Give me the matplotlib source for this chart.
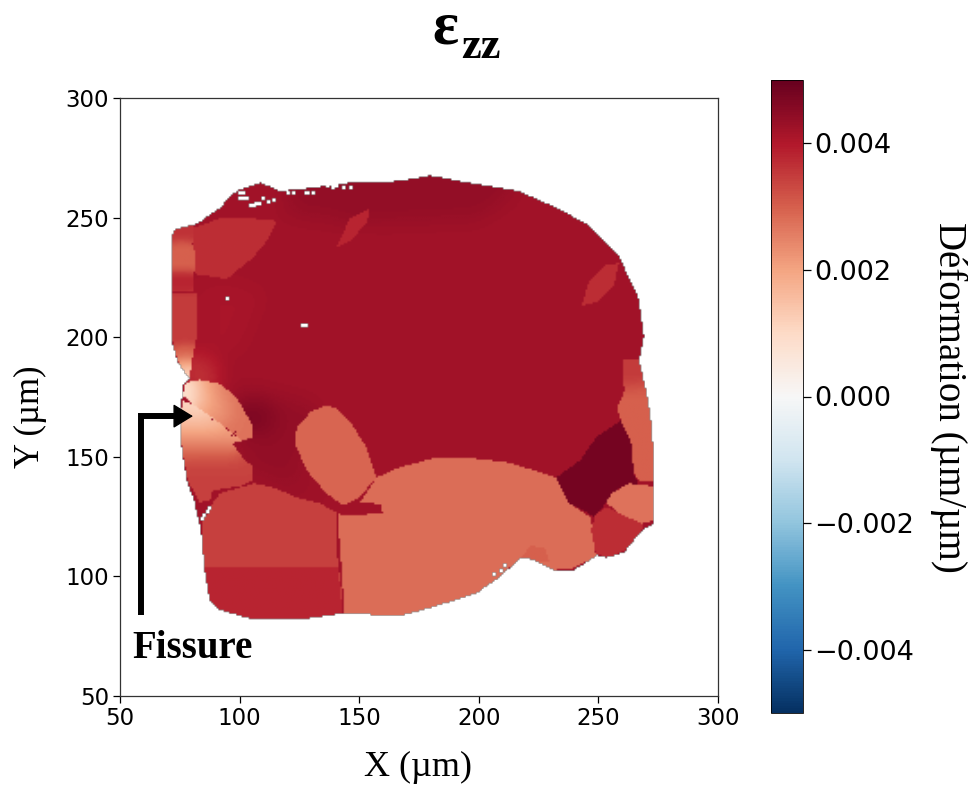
#!/usr/bin/env python3
"""Strain map (eps_zz) of a polycrystal, grains read off the reference picture."""
import numpy as np
import matplotlib
matplotlib.use('Agg')
import matplotlib.pyplot as plt
from matplotlib.path import Path

SERIF = 'Liberation Serif'

# sample outline, um
OUTLINE = [(71.7, 243), (73, 245.6), (79.3, 247), (82.6, 248), (92.6, 255), (95, 258.6), (100, 262),
           (109, 265), (117, 261.5), (131.5, 263), (146, 265), (167, 265.7), (180, 268), (196, 265),
           (217, 261.5), (234, 254), (246.5, 247), (259, 234), (267, 217.6), (269.5, 201), (267.5, 190.4),
           (270.7, 176.7), (273, 161), (273.6, 138), (273.4, 122), (269.5, 120), (265, 115), (261, 110),
           (253.6, 108), (250, 109), (247, 107), (240, 102.7), (232, 102.7), (223.5, 107), (218, 108),
           (208.8, 99.7), (199.2, 93), (180.8, 87.2), (167, 83.5), (144, 84.7), (125, 82), (115, 82),
           (104, 82.6), (92, 86), (87.6, 90), (85.5, 102.7), (84, 119), (81, 132), (78, 140), (75.5, 157),
           (76, 180), (79, 183), (74, 190), (71.7, 199), (71.7, 232)]

# (strain, polygon) painted in this order, later ones on top
MAIN_VALUE = 0.0042
MAIN_SHADES = [
    (0.0044, [(120, 263), (180, 268), (217, 261.5), (200, 250), (150, 248), (120, 252)]),
    (0.0041, [(84, 190), (100, 195), (110, 220), (95, 222), (84, 222)]),
    (0.0044, [(100.2, 180), (125, 173.7), (133.6, 171.6), (123.2, 157), (125.2, 140), (137.7, 131.9),
              (106.4, 144.5), (100.2, 158.3)]),
    (0.0047, [(102, 175), (115, 170), (112, 160), (103, 160)]),
    (0.0034, [(80, 192), (88, 190), (92, 183), (82, 183)]),
]
SMALL_GRAINS = [
    (0.0037, [(80.5, 246), (81.4, 226.8), (94.7, 224.7), (105.6, 233.5), (111.4, 240.6), (115.6, 249),
              (105.6, 250), (91.8, 250)]),
    (0.0037, [(243.5, 213.4), (246.5, 223.9), (252.7, 230.2), (259, 231.4), (256.9, 221.8), (250.6, 215.5)]),
    (0.0038, [(140.7, 237.7), (146.1, 249.8), (154.5, 254), (153.7, 249), (147.4, 241.4)]),
]
LEFT_STRIP = [
    (0.0036, [(71, 240), (81, 240), (81, 248), (71, 248)]),
    (0.0030, [(71, 228), (81.5, 228), (81.5, 236), (80, 240), (75, 241), (71, 239)]),
    (0.0038, [(71, 219.5), (81, 219.5), (81, 228), (71, 228)]),
    (0.0035, [(71, 218.5), (82.6, 218.5), (82, 200), (80, 190.4), (79.3, 183.3), (76.3, 185), (74.2, 190.4),
              (73, 194.6), (71, 203)]),
    (0.0029, [(73, 197), (81.5, 197), (80, 190.4), (79.3, 183.3), (76.3, 185), (74.2, 190.4)]),
    (0.0021, [(74, 192), (80.3, 192), (79.3, 183.3), (76.3, 185)]),
    (0.0013, [(75.5, 188), (79.8, 188), (79.3, 183.3), (76.3, 185)]),
]
# grain cut by the crack, lighter towards it
CRACK_BELOW = [
    (0.0034, [(75.5, 168.3), (76.3, 173.7), (81.4, 171.6), (88.9, 166.6), (97.2, 159.9), (101.4, 157),
              (97.2, 155.8), (102.3, 148.6), (105.6, 146.6), (105.2, 140.3), (101.4, 138.2), (88.9, 136.1),
              (87.6, 131.9), (83.4, 131.1), (78.4, 140.3), (75.9, 154.1)]),
    (0.0031, [(75.5, 168.3), (76.3, 173.7), (81.4, 171.6), (88.9, 166.6), (97.2, 159.9), (101.4, 157),
              (97.2, 155.8), (100, 151), (102, 148), (76.8, 148)]),
    (0.0026, [(75.5, 168.3), (76.3, 173.7), (81.4, 171.6), (88.9, 166.6), (97.2, 159.9), (101.4, 157),
              (97.2, 155.8), (99, 152), (76, 152)]),
    (0.0021, [(75.5, 168.3), (76.3, 173.7), (81.4, 171.6), (88.9, 166.6), (97.2, 159.9), (101.4, 157),
              (97, 155.8), (96, 157), (75.7, 157)]),
    (0.0016, [(75.5, 168.3), (76.3, 173.7), (81.4, 171.6), (88.9, 166.6), (94, 162), (75.6, 162)]),
    (0.0011, [(75.5, 168.3), (76.3, 173.7), (81.4, 171.6), (88, 167), (75.5, 167)]),
]
CRACK_ABOVE = [
    (0.0027, [(76.3, 175.8), (77.6, 181.3), (83.4, 182.5), (91.8, 180.8), (98.9, 175), (105.2, 164.1),
              (105.6, 158.3), (101.4, 157), (88.9, 166.6), (81.4, 171.6)]),
    (0.0022, [(76.3, 175.8), (77.6, 181.3), (83.4, 182.5), (90, 181), (95, 174), (97, 165), (90, 166),
              (81.4, 171.6)]),
    (0.0016, [(76.3, 175.8), (77.6, 181.3), (83.4, 182.5), (87, 178), (88, 170), (81.4, 171.6)]),
    (0.0008, [(76.3, 175.8), (77.6, 181.3), (81, 181), (82, 176), (81.4, 171.6)]),
]
BIG_GRAINS = [
    (0.0034, [(106, 139), (114, 137.4), (124, 133.2), (133.6, 130.7), (140.7, 126.9), (141.1, 108.1),
              (143.2, 91.4), (143.2, 87.2), (136.5, 83), (125, 80), (104, 80), (87.6, 90), (84.7, 103.9),
              (84.3, 122.3), (88.9, 130.7), (91.8, 134.9)]),
    (0.0038, [(84, 104), (141.3, 104), (143.2, 85), (125, 80), (95, 80), (85, 90)]),
    (0.0029, [(136.5, 171.6), (130.3, 169.5), (124, 162.4), (123.2, 155.8), (128.2, 144.5), (136.5, 134.9),
              (143.2, 129.8), (150.3, 133.2), (157.4, 141.5), (153.2, 154.1), (146.1, 165.4), (140.7, 170.4)]),
    (0.0028, [(141.1, 126.5), (150.3, 130.7), (157.4, 141.5), (167, 145.7), (180.8, 149.5), (195, 149.9),
              (213, 147.8), (232.7, 141.5), (238.1, 130.7), (247.3, 124.8), (249.4, 108.1), (239.4, 103.5),
              (231, 102.7), (222.6, 106.8), (218, 108.1), (208.8, 99.7), (199.2, 93), (180.8, 87.2),
              (167, 83), (144, 83), (143.2, 98.5)]),
    (0.0030, [(218, 108), (222, 113), (228, 112), (230, 106), (224, 106)]),
    (0.0042, [(141, 127), (150.3, 131), (159, 130.5), (160, 126.5), (143, 125.5)]),
    (0.0048, [(259.8, 165.4), (264, 157), (265.3, 143.2), (267.4, 139), (259, 136.9), (254, 131.9),
              (249.4, 124.8), (238.1, 130.7), (232.7, 141.5), (243, 149), (249.4, 158.3)]),
    (0.0037, [(249.4, 126.5), (247.3, 119.4), (249.4, 109.8), (254.8, 107.7), (263.2, 111.9), (269.5, 120.6),
              (268.6, 122.3), (259, 126.5), (254, 129)]),
    (0.0027, [(263.2, 139), (256, 134.9), (253.6, 131.1), (259, 126.5), (268.6, 122.3), (275, 124), (275, 137),
              (270.7, 138.2)]),
]
RIGHT_STRIP = [
    (0.0030, [(258.2, 170.8), (261.9, 179), (261, 190.4), (268, 190.4), (270.7, 176.7), (274, 161), (274, 140),
              (267.4, 140), (265.3, 143.2), (264, 157), (259.8, 165.4)]),
    (0.0035, [(261, 180), (271, 180), (268, 191), (261, 191)]),
]

# unindexed pixels along the edge and inside the map
HOLES = [(100.2, 260.7), (101.5, 260.7), (100.2, 258.2), (101.5, 258.2), (103, 258), (104.3, 255.2), (105.5, 255.2),
         (106.8, 255.5), (108, 256), (109.8, 258.2), (111.5, 256.5), (114, 257.3), (119.8, 260.7), (122.3, 260.3),
         (127.3, 260.3), (128.7, 260.3), (130.7, 260.3), (132.3, 264), (136.5, 263.6), (138.5, 262.5), (140.7, 263.6),
         (143.2, 262.8), (146, 262.4), (94.7, 216.4), (126, 205), (127.7, 205), (84, 124), (85, 125.5), (86.2, 127),
         (87.4, 128.5), (269.5, 188), (269.5, 186.5), (271.5, 178), (211, 104), (209, 102), (206, 100.5)]
CRACK_DOTS = [(88.9, 166.2), (98, 160.3), (97.2, 159)]
CRACK_DOT_VALUE = 0.0045

VMAX = 0.005
GRID_STEP = 0.75
AXIS_TICKS = [50, 100, 150, 200, 250, 300]
CBAR_TICKS = [-0.004, -0.002, 0.0, 0.002, 0.004]

# fissure arrow, um
ARROW_X = [58.8, 58.8, 74]
ARROW_Y = [84, 167, 167]
ARROW_TIP = (80.5, 167)


def soften(grid, region, n):
    """Box blur of grid, only inside region, so grain edges stay sharp."""
    kernel = np.ones(n) / n
    vals = np.where(region, grid, 0.0)
    wt = region.astype(float)
    for _ in range(2):
        for axis in (0, 1):
            vals = np.apply_along_axis(np.convolve, axis, vals, kernel, mode='same')
            wt = np.apply_along_axis(np.convolve, axis, wt, kernel, mode='same')
    out = grid.copy()
    out[region] = vals[region] / wt[region]
    return out


def build_map():
    xs = np.arange(50, 300, GRID_STEP) + GRID_STEP / 2
    xx, yy = np.meshgrid(xs, xs)
    pts = np.column_stack([xx.ravel(), yy.ravel()])

    def mask(poly):
        return Path(poly).contains_points(pts).reshape(xx.shape)

    inside = mask(OUTLINE)
    grid = np.full(xx.shape, np.nan)
    grid[inside] = MAIN_VALUE
    labels = np.zeros(xx.shape, dtype=int)  # 0 = main grain

    groups = [(MAIN_SHADES, 0), (SMALL_GRAINS, 1), (LEFT_STRIP, 2), (RIGHT_STRIP, 6), (BIG_GRAINS, 3),
              (CRACK_BELOW, 4), (CRACK_ABOVE, 5)]
    for group, label in groups:
        for value, poly in group:
            m = mask(poly) & inside
            grid[m] = value
            labels[m] = label

    # gradients in the reference are smooth, painted steps are not
    for label, n in [(0, 13), (2, 5), (4, 9), (5, 9), (6, 9)]:
        grid = soften(grid, (labels == label) & inside, n)

    for x, y in CRACK_DOTS:
        grid[int((y - 50) / GRID_STEP), int((x - 50) / GRID_STEP)] = CRACK_DOT_VALUE
    for x, y in HOLES:
        i, j = int((y - 50) / GRID_STEP), int((x - 50) / GRID_STEP)
        grid[i:i + 2, j:j + 2] = np.nan
    return grid


def main():
    W, H = 968, 785
    fig = plt.figure(figsize=(W / 100, H / 100), dpi=100, facecolor='white')
    ax = fig.add_axes([120 / W, 1 - 696 / H, 598 / W, 598 / H])
    cax = fig.add_axes([771 / W, 1 - 713 / H, 32 / W, 633 / H])

    im = ax.imshow(build_map(), cmap='RdBu_r', vmin=-VMAX, vmax=VMAX, origin='lower',
                   extent=[50, 300, 50, 300], interpolation='bilinear')
    ax.set_xlim(50, 300)
    ax.set_ylim(50, 300)
    ax.set_xticks(AXIS_TICKS)
    ax.set_yticks(AXIS_TICKS)
    ax.tick_params(labelsize=16.5, length=5, width=0.9, pad=3)
    for s in ax.spines.values():
        s.set_linewidth(0.9)
        s.set_color('#333333')

    cb = fig.colorbar(im, cax=cax)
    cb.set_ticks(CBAR_TICKS)
    cb.ax.tick_params(labelsize=19.5, length=6, width=0.9, pad=2)
    cb.outline.set_linewidth(0.6)

    # arrow pointing at the crack
    ax.plot(ARROW_X, ARROW_Y, color='black', lw=4.3, solid_joinstyle='miter', solid_capstyle='butt')
    ax.annotate('', xy=ARROW_TIP, xytext=(ARROW_X[-1] - 1, ARROW_Y[-1]),
                arrowprops=dict(arrowstyle='-|>,head_length=0.9,head_width=0.55', color='black',
                                lw=1, shrinkA=0, shrinkB=0, mutation_scale=14))
    ax.text(55, 70, 'Fissure', family=SERIF, fontweight='bold', fontsize=28, color='black',
            va='center', ha='left')

    fig.text(418 / W, 1 - 767 / H, 'X (µm)', family=SERIF, fontsize=26, ha='center', va='center')
    fig.text(30 / W, 1 - 417 / H, 'Y (µm)', family=SERIF, fontsize=25, rotation=90, ha='center', va='center')
    fig.text(949 / W, 1 - 397 / H, 'Déformation (µm/µm)', family=SERIF, fontsize=28, rotation=270,
             ha='center', va='center')

    fig.text(445 / W, 1 - 43 / H, 'ε', family=SERIF, fontweight='bold', fontsize=44, ha='center', va='baseline')
    fig.text(481 / W, 1 - 58 / H, 'zz', family=SERIF, fontweight='bold', fontsize=32, ha='center', va='baseline')

    fig.savefig('out.png', dpi=100, facecolor='white')
    plt.close(fig)


if __name__ == '__main__':
    main()
